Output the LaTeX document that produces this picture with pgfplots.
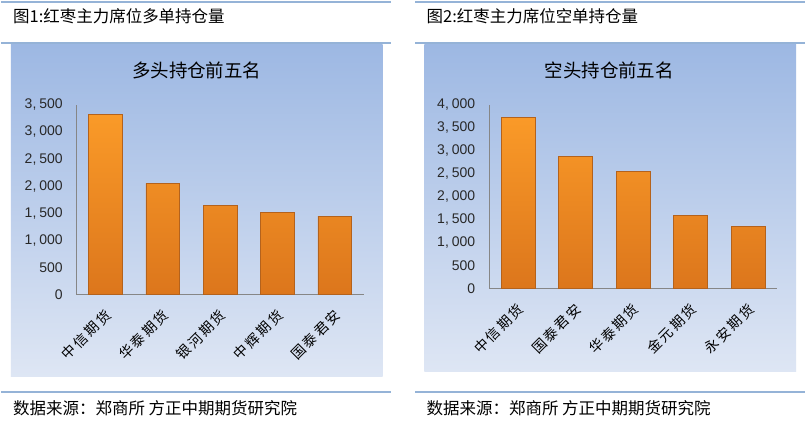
\documentclass[border=0pt]{standalone}
\usepackage{pgfplots}
\pgfplotsset{compat=1.18}
\usepackage{fontspec}
\setmainfont{Liberation Sans}
\newfontfamily\cjk{Noto Sans CJK SC}
\newfontfamily\cjkls[LetterSpace=16]{Noto Sans CJK SC}
\definecolor{linec}{RGB}{149,179,215}
\definecolor{bgtop}{RGB}{157,184,227}
\definecolor{bgbot}{RGB}{222,230,244}
\definecolor{bartop}{RGB}{250,154,40}
\definecolor{barbot}{RGB}{220,118,28}
\definecolor{baredge}{RGB}{180,98,28}
\definecolor{axisc}{RGB}{134,134,134}
\definecolor{tickc}{RGB}{40,40,40}
\pgfplotsset{
  mychart/.style={
    scale only axis,
    anchor=south west,
    xmin=-0.5, xmax=4.5, ymin=0,
    xtick={0,1,2,3,4},
    axis lines=left,
    axis line style={-, axisc, line width=1pt},
    major tick length=0pt,
    scaled y ticks=false,
    /pgf/number format/assume math mode=true,
    /pgf/number format/1000 sep={,\hspace{3pt}},
    yticklabel style={font=\fontsize{14}{14}\selectfont, text=tickc, inner sep=0pt, anchor=east, xshift=-14pt},
    xticklabel style={font=\cjkls\fontsize{14}{14}\selectfont, text=black, inner sep=0pt, anchor=east, xshift=3pt, yshift=-18pt, rotate=45},
  },
  mybar/.style={ybar, bar width=34pt, draw=baredge, line width=0.8pt, top color=bartop, bottom color=barbot},
}
\begin{document}
\begin{tikzpicture}[x=1pt,y=-1pt]
\fill[white] (0,0) rectangle (809,427);
\foreach \y in {2,43,392} {
  \draw[linec,line width=2pt] (0,\y) -- (390,\y);
  \draw[linec,line width=2pt] (415,\y) -- (805,\y);
}
\shade[top color=bgtop,bottom color=bgbot] (10,45) rectangle (382,377);
\shade[top color=bgtop,bottom color=bgbot] (424,45) rectangle (796,372);
\node[anchor=west,inner sep=0pt,font=\cjk\fontsize{16.5}{16.5}\selectfont] at (12,16) {图1:红枣主力席位多单持仓量};
\node[anchor=west,inner sep=0pt,font=\cjk\fontsize{16.5}{16.5}\selectfont] at (426,16) {图2:红枣主力席位空单持仓量};
\node[anchor=west,inner sep=0pt,font=\cjk\fontsize{16.5}{16.5}\selectfont] at (12,409) {数据来源：郑商所 方正中期期货研究院};
\node[anchor=west,inner sep=0pt,font=\cjk\fontsize{16.5}{16.5}\selectfont] at (426,409) {数据来源：郑商所 方正中期期货研究院};
\node[inner sep=0pt,font=\cjk\fontsize{18.5}{18.5}\selectfont] at (196,71) {多头持仓前五名};
\node[inner sep=0pt,font=\cjk\fontsize{18.5}{18.5}\selectfont] at (609,71) {空头持仓前五名};

\begin{axis}[mychart, at={(76pt,-295pt)}, width=287pt, height=190pt,
  ymax=3500, ytick={0,500,...,3500},
  xticklabels={中信期货,华泰期货,银河期货,中辉期货,国泰君安}]
\addplot[mybar] coordinates {(0,3320) (1,2050) (2,1645) (3,1520) (4,1450)};
\end{axis}

\begin{axis}[mychart, at={(489pt,-289pt)}, width=288pt, height=184.3pt,
  ymax=4000, ytick={0,500,...,4000},
  xticklabels={中信期货,国泰君安,华泰期货,金元期货,永安期货}]
\addplot[mybar] coordinates {(0,3725) (1,2878) (2,2539) (3,1584) (4,1346)};
\end{axis}
\end{tikzpicture}
\end{document}
